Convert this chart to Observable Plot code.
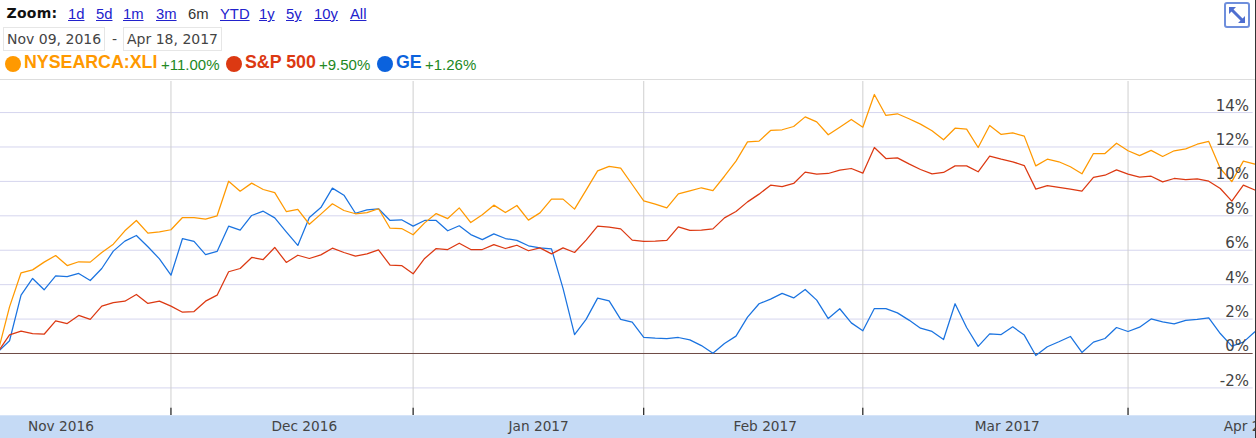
<!DOCTYPE html>
<html>
<head>
<meta charset="utf-8">
<script src="https://cdn.jsdelivr.net/npm/d3@7"></script>
<script src="https://cdn.jsdelivr.net/npm/@observablehq/plot@0.6"></script>
<style>
html,body{margin:0;padding:0;background:#fff;width:1256px;height:438px;overflow:hidden}
#page{position:relative;width:1256px;height:438px;overflow:hidden}
#chart{position:absolute;left:0;top:79px}
#chart svg{display:block}
.h{position:absolute;white-space:nowrap;font-family:"Liberation Sans",Arial,sans-serif}
.z{top:6px;font-size:14.8px;color:#2222cc;text-decoration:underline}
.box{top:27px;height:22px;line-height:23px;border:1px solid #e6e6e6;font-family:"DejaVu Sans",sans-serif;font-size:14px;color:#444;padding:0 3px;box-sizing:content-box}
.dot{top:55.5px;width:16px;height:16px;border-radius:50%}
.n{top:52px;font-size:17.8px;font-weight:bold}
.p{top:56px;font-size:15px;color:#228822}
</style>
</head>
<body>
<div id="page"><div id="head"></div><div id="chart"></div></div>
<script>
const names = ["NYSEARCA:XLI", "S&P 500", "GE"];
const colors = ["#ff9900", "#dc3912", "#0b62dd"];
const lineColors = ["#ff9900", "#dc3912", "#1a73e0"];
const changes = ["+11.00%", "+9.50%", "+1.26%"];
const zoomLinks = ["1d", "5d", "1m", "3m", "6m", "YTD", "1y", "5y", "10y", "All"];
const dateRange = ["Nov 09, 2016", "Apr 18, 2017"];
const yTicks = [-2, 0, 2, 4, 6, 8, 10, 12, 14];
const monthStarts = [15, 36, 56, 75, 98];
const monthLabels = ["Nov 2016", "Dec 2016", "Jan 2017", "Feb 2017", "Mar 2017", "Apr 2017"];
const monthLabelAt = [2.6, 23.72, 44.27, 63.79, 84.71, 106.29];

const xli = [0.10,2.71,4.69,4.86,5.31,5.69,5.11,5.33,5.31,5.87,6.35,7.13,7.73,6.99,7.07,7.19,7.90,7.90,7.81,8.00,10.01,9.43,9.90,9.53,9.35,8.25,8.37,7.51,8.10,8.70,8.31,8.12,8.19,8.41,7.28,7.26,6.90,7.59,8.13,7.84,8.46,7.61,8.06,8.62,8.19,8.60,7.75,8.17,8.97,8.97,8.39,9.49,10.61,10.87,10.77,9.82,8.87,8.68,8.46,9.28,9.45,9.63,9.47,10.30,11.18,12.30,12.34,12.96,13.00,13.19,13.75,13.46,12.71,13.15,13.60,13.15,15.05,13.83,13.93,13.64,13.33,12.94,12.42,13.09,13.04,11.97,13.25,12.73,12.82,12.63,10.90,11.29,11.14,10.85,10.44,11.62,11.62,12.22,11.78,11.50,11.80,11.45,11.78,11.89,12.16,12.32,10.75,9.99,11.18,11.00];
const spx = [0.10,1.08,1.30,1.16,1.12,1.90,1.74,2.21,1.98,2.75,2.96,3.04,3.43,2.91,3.04,2.75,2.40,2.44,3.04,3.39,4.75,4.94,5.58,5.46,6.16,5.29,5.71,5.52,5.73,6.12,5.87,5.66,5.79,6.02,5.13,5.11,4.63,5.52,6.10,6.04,6.41,6.04,6.04,6.33,6.10,6.29,5.97,6.14,5.79,6.14,5.87,6.59,7.40,7.34,7.24,6.59,6.51,6.53,6.57,7.36,7.15,7.17,7.24,7.88,8.25,8.81,9.26,9.78,9.70,9.88,10.54,10.42,10.46,10.65,10.75,10.48,11.97,11.33,11.37,11.02,10.69,10.44,10.52,10.90,10.90,10.56,11.47,11.29,11.14,10.92,9.55,9.76,9.65,9.55,9.43,10.23,10.36,10.67,10.42,10.25,10.30,9.97,10.17,10.11,10.15,10.01,9.59,8.85,9.78,9.50];
const ge = [0.10,0.74,3.39,4.36,3.70,4.51,4.47,4.65,4.24,4.94,5.95,6.53,6.86,6.20,5.50,4.55,6.68,6.51,5.75,5.93,7.40,7.17,8.02,8.27,7.88,7.07,6.28,7.90,8.48,9.61,9.20,8.15,8.35,8.41,7.73,7.77,7.40,7.73,7.73,7.13,7.42,6.91,6.62,6.95,6.68,6.57,6.26,6.14,6.08,3.78,1.10,1.98,3.22,3.06,1.98,1.82,0.93,0.89,0.87,0.93,0.79,0.46,0.02,0.58,1.01,2.11,2.89,3.16,3.49,3.23,3.72,3.10,2.03,2.60,1.78,1.32,2.61,2.61,2.36,1.94,1.47,1.28,0.81,2.89,1.51,0.41,1.14,1.10,1.55,1.07,-0.12,0.39,0.68,0.99,0.06,0.66,0.87,1.51,1.28,1.53,2.01,1.84,1.72,1.92,1.98,2.07,1.16,0.43,0.66,1.26];

const xDomain = [0.2169, 109.14];
const yDomain = [-3.603, 15.805];
const series = [ge, spx, xli];
const seriesColors = [lineColors[2], lineColors[1], lineColors[0]];

const plot = Plot.plot({
  width: 1256, height: 359,
  marginTop: 2, marginBottom: 23, marginLeft: 0, marginRight: 0,
  x: {domain: xDomain, axis: null},
  y: {domain: yDomain, axis: null},
  style: {background: "transparent"},
  marks: [
    Plot.rect([0], {x1: xDomain[0], x2: xDomain[1], y1: -3.62, y2: -4.95, fill: "#c5daf5"}),
    Plot.ruleY(yTicks.filter(d => d !== 0), {x1: xDomain[0], x2: 108.85, stroke: "#d5d5ee", strokeWidth: 1}),
    Plot.ruleX(monthStarts, {stroke: "#cfcfcf", strokeWidth: 1}),
    Plot.ruleX(monthStarts, {y1: -3.18, y2: yDomain[0], stroke: "#000", strokeWidth: 1}),
    Plot.ruleY([0], {x1: xDomain[0], x2: 108.85, stroke: "#6e4a44", strokeWidth: 1}),
    ...series.map((s, k) => Plot.lineY(s, {
      x: (d, i) => i, y: d => d, stroke: seriesColors[k], strokeWidth: 1.25, curve: "linear"
    })),
    Plot.text(yTicks, {
      x: 108.49, y: d => d, text: d => d + "%", textAnchor: "end", lineAnchor: "bottom",
      dy: -2, fontSize: 15, fontFamily: "DejaVu Sans", fill: "#444"
    }),
    Plot.text(monthLabels, {
      x: (d, i) => monthLabelAt[i], y: -4.27, text: d => d, textAnchor: "start",
      fontSize: 13.7, fontFamily: "DejaVu Sans", fill: "#444"
    })
  ]
});
document.getElementById("chart").appendChild(plot);

// Header
const head = document.getElementById("head");
function add(cls, text, left, css) {
  const e = document.createElement("div");
  e.className = "h " + cls;
  if (text) e.textContent = text;
  e.style.left = left + "px";
  if (css) e.style.cssText += css;
  head.appendChild(e);
  return e;
}
add("", "Zoom:", 6.5, "top:5px;font-weight:bold;color:#111;font-family:'DejaVu Sans',sans-serif;font-size:14px;letter-spacing:0.25px");
const zoomX = [68, 96, 123, 156, 188, 220, 259, 286, 314, 350];
zoomLinks.forEach((t, i) => add("z", t, zoomX[i], t === "6m" ? "color:#333;text-decoration:none" : ""));
add("box", dateRange[0], 3);
add("", "-", 112, "top:31px;font-size:14px;color:#444;font-family:'DejaVu Sans',sans-serif");
add("box", dateRange[1], 123);
const dotX = [5, 226, 377], nameX = [24, 245, 396], pctX = [161, 319, 425];
names.forEach((n, i) => {
  add("dot", "", dotX[i], "background:" + colors[i]);
  add("n", n, nameX[i], "color:" + colors[i]);
  add("p", changes[i], pctX[i]);
});
const icon = document.createElement("div");
icon.style.cssText = "position:absolute;left:1224px;top:2px;width:26px;height:26px;box-sizing:border-box;border:2px solid #6f8fdc;border-radius:3px;background:#fff";
icon.innerHTML = '<svg width="22" height="22" viewBox="0 0 22 22"><path d="M4 4L18 18" stroke="#4f6fd0" stroke-width="3"/><path d="M3 3H10L3 10ZM19 19H12L19 12Z" fill="#4f6fd0"/></svg>';
head.appendChild(icon);
const topLine = document.createElement("div");
topLine.style.cssText = "position:absolute;left:0;top:79px;width:1256px;height:1px;background:#dddddd";
head.appendChild(topLine);
const edge = document.createElement("div");
edge.style.cssText = "position:absolute;left:1255px;top:0;width:1px;height:438px;background:#333";
document.getElementById("page").appendChild(edge);
</script>
</body>
</html>
